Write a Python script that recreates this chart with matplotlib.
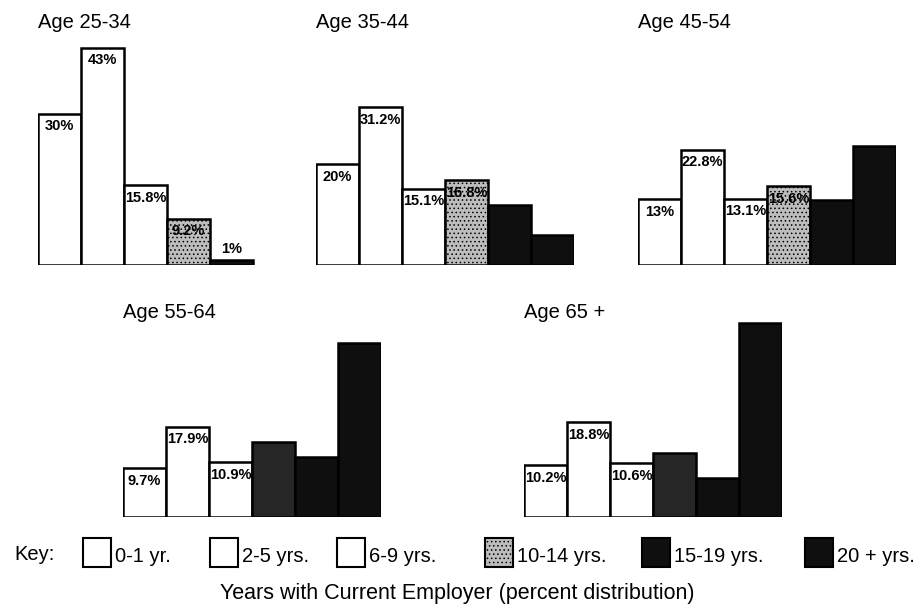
import matplotlib.pyplot as plt
from matplotlib.patches import Rectangle

plt.rcParams['font.family'] = ['Liberation Sans', 'DejaVu Sans']
plt.rcParams['hatch.linewidth'] = 0.6

# categorias (anos com o empregador atual)
categories = ['0-1 yr.', '2-5 yrs.', '6-9 yrs.', '10-14 yrs.', '15-19 yrs.', '20 + yrs.']
age_groups = ['Age 25-34', 'Age 35-44', 'Age 45-54', 'Age 55-64', 'Age 65 +']

# percentuais por faixa etaria (sem rotulo = estimado pela altura da barra)
pct_25_34 = [30, 43, 15.8, 9.2, 1]
pct_35_44 = [20, 31.2, 15.1, 16.8, 11.9, 5.9]
pct_45_54 = [13, 22.8, 13.1, 15.6, 12.9, 23.6]
pct_55_64 = [9.7, 17.9, 10.9, 14.8, 11.9, 34.5]
pct_65_plus = [10.2, 18.8, 10.6, 12.7, 7.7, 38.4]

# quais barras levam rotulo de valor
labeled_25_34 = [True, True, True, True, True]
labeled_35_44 = [True, True, True, True, False, False]
labeled_45_54 = [True, True, True, True, False, False]
labeled_55_64 = [True, True, True, False, False, False]
labeled_65_plus = [True, True, True, False, False, False]

W, H = 924, 608
fig = plt.figure(figsize=(W / 100, H / 100), dpi=100)

LIGHT = '#bdbdbd'
DARK = '#0f0f0f'


def px_axes(left, base, width=258, height=227.25):
    return fig.add_axes([left / W, (H - base) / H, width / W, height / H])


def bar_style(i, dark_mid):
    # 0-1, 2-5, 6-9 brancas; 10-14 pontilhada; 15-19 e 20+ pretas
    if i < 3:
        return dict(color='white', hatch=None)
    if i == 3:
        return dict(color='#262626' if dark_mid else LIGHT, hatch=None if dark_mid else '....')
    return dict(color=DARK, hatch=None)


def painel(left, base, title, values, labeled, dark_mid, title_y):
    ax = px_axes(left, base)
    for i, v in enumerate(values):
        st = bar_style(i, dark_mid)
        ax.bar(i, v, width=1.0, facecolor=st['color'], edgecolor='black',
               linewidth=1.8, hatch=st['hatch'])
        if labeled[i]:
            txt = f"{v:g}%"
            if v < 4:
                ax.annotate(txt, (i, v), xytext=(0, 3), textcoords='offset points',
                            ha='center', va='bottom', fontsize=10.5, fontweight='bold')
            else:
                ax.annotate(txt, (i, v), xytext=(0, -4), textcoords='offset points',
                            ha='center', va='top', fontsize=10.5, fontweight='bold')
    ax.set_xlim(-0.5, 5.5)
    ax.set_ylim(0, 45)
    ax.axis('off')
    fig.text(left / W, 1 - title_y / H, title, fontsize=14.5, ha='left', va='center')


painel(38, 265, age_groups[0], pct_25_34, labeled_25_34, False, 22)
painel(316, 265, age_groups[1], pct_35_44, labeled_35_44, False, 22)
painel(638, 265, age_groups[2], pct_45_54, labeled_45_54, False, 22)
painel(123, 517, age_groups[3], pct_55_64, labeled_55_64, True, 312)
painel(524, 517, age_groups[4], pct_65_plus, labeled_65_plus, True, 312)

# legenda ("Key") desenhada em coordenadas de pixel
kax = fig.add_axes([0, 0, 1, 1])
kax.set_xlim(0, W)
kax.set_ylim(H, 0)
kax.axis('off')
kax.text(14, 555, 'Key:', fontsize=14.5, ha='left', va='center')
box_left = [83, 210, 337, 485, 642, 805]
for i, cat in enumerate(categories):
    st = bar_style(i, False)
    kax.add_patch(Rectangle((box_left[i], 538), 28, 29, facecolor=st['color'],
                            edgecolor='black', linewidth=1.5, hatch=st['hatch']))
    kax.text(box_left[i] + 32, 557, cat, fontsize=14.5, ha='left', va='center')

kax.text(457, 593, 'Years with Current Employer (percent distribution)',
         fontsize=15.5, ha='center', va='center')

fig.savefig('out.png', dpi=100)
